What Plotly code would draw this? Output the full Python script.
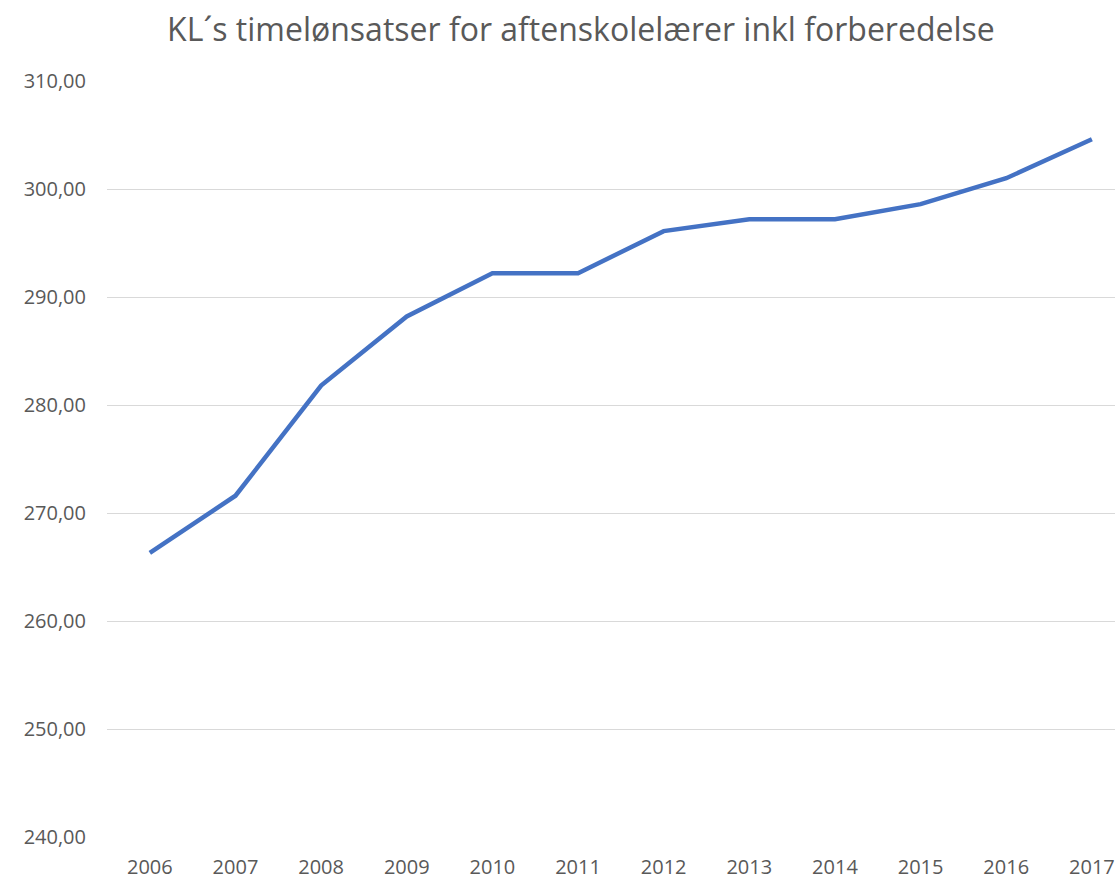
import plotly.graph_objects as go

years = ["2006", "2007", "2008", "2009", "2010", "2011", "2012", "2013", "2014", "2015", "2016", "2017"]
values = [266.3, 271.6, 281.8, 288.2, 292.2, 292.2, 296.1, 297.2, 297.2, 298.6, 301.0, 304.6]
y_ticks = [240, 250, 260, 270, 280, 290, 300, 310]

fig = go.Figure()
fig.add_trace(go.Scatter(
    x=list(range(len(years))), y=values, mode="lines",
    line=dict(color="#4472C4", width=4.5),
    hoverinfo="skip",
))

fig.update_layout(
    width=1115, height=881,
    paper_bgcolor="white", plot_bgcolor="white",
    margin=dict(l=107, r=0, t=81, b=44),
    separators=",.",
    showlegend=False,
    title=dict(
        text="KL´s timelønsatser for aftenskolelærer inkl forberedelse",
        x=0.521, xanchor="center", y=0.966, yanchor="middle",
        font=dict(family="Open Sans, Noto Sans, sans-serif", size=32, color="#595959"),
    ),
    font=dict(family="Open Sans, Noto Sans, sans-serif", size=20, color="#595959"),
)
fig.update_xaxes(
    tickmode="array", tickvals=list(range(len(years))), ticktext=years,
    range=[-0.5, 11.27], showgrid=False, zeroline=False, showline=False,
    ticks="", ticklabelstandoff=16, tickfont=dict(size=20, color="#595959"),
)
fig.update_yaxes(
    range=[240, 310], tickvals=y_ticks, tickformat=".2f",
    showgrid=True, gridcolor="#D9D9D9", gridwidth=1.3, zeroline=False,
    showline=False, ticks="", ticklabelstandoff=20,
    tickfont=dict(size=20, color="#595959"),
)

# remove the default page margin so the figure fills the window exactly
fig.write_html(
    "out.html",
    config={"displayModeBar": False},
    post_script="document.body.style.margin='0';",
)
